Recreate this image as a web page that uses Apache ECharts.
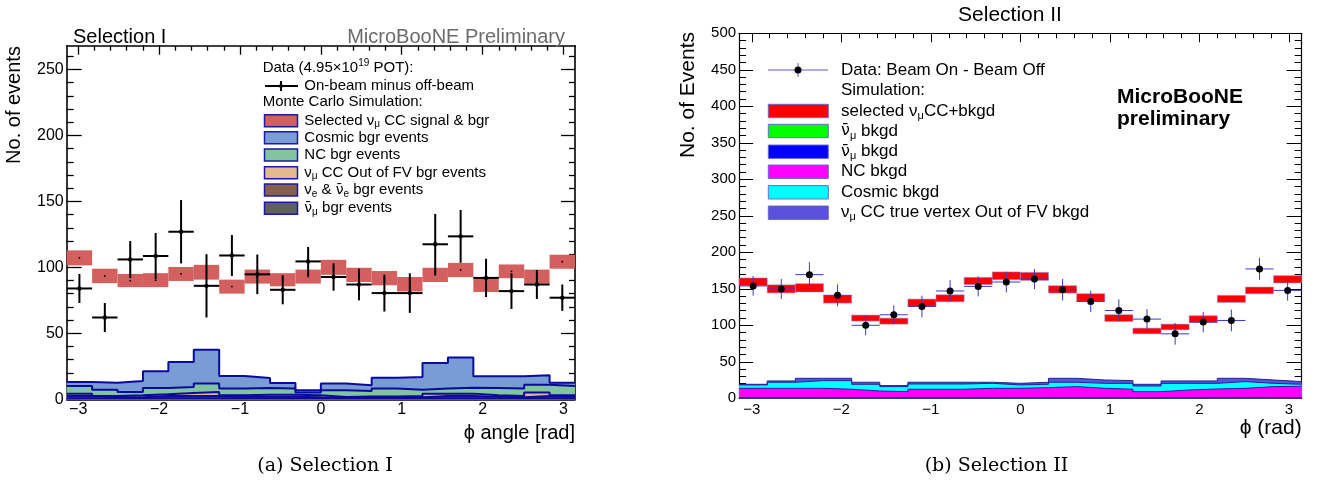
<!DOCTYPE html>
<html><head><meta charset="utf-8">
<script src="https://cdn.jsdelivr.net/npm/echarts@6/dist/echarts.min.js"></script>
<style>html,body{margin:0;padding:0;background:#fff}#c{width:1321px;height:482px}</style>
</head><body><div id="c"></div>
<script>
// ================= DATA =================
const nBins = 20;
const phiMin = -Math.PI, phiMax = Math.PI;
const xTickValues = [-3, -2, -1, 0, 1, 2, 3];
const yTickValuesI = [0, 50, 100, 150, 200, 250];
const yTickValuesII = [0, 50, 100, 150, 200, 250, 300, 350, 400, 450, 500];

// ---- Selection I ----
const sel1Data    = [84, 62, 106, 108.6, 127, 86, 109, 94.7, 83, 104.5, 92.7, 87, 80.5, 80.5, 117.5, 123.5, 92, 82, 87, 77];
const sel1DataErr = [11, 11, 14, 17.5, 24, 24, 15.5, 15, 11, 11, 10.4, 12, 14, 15, 23, 20, 14.5, 13.5, 11, 10];
const sel1MC      = [107.2, 93.5, 90, 90.3, 95, 96.3, 85.4, 93, 90.6, 93, 100, 94.3, 91.8, 87.2, 94.3, 98, 87, 97, 93, 104.3];
const sel1MCErr   = [5.7, 5.5, 5, 5.3, 5.3, 5.6, 5.3, 5.3, 5, 5.3, 5.7, 5.4, 5.4, 5.5, 5.4, 5.4, 5.7, 5.2, 5.3, 5.3];
const sel1Numubar = [0.8, 0.8, 0.8, 0.8, 0.8, 0.8, 0.8, 0.8, 0.8, 0.8, 0.8, 0.8, 0.8, 0.8, 0.8, 0.8, 0.8, 0.8, 0.8, 0.8];
const sel1Nue     = [1.7, 0.7, 0.7, 1.7, 1.7, 1.7, 1.2, 1.2, 1.2, 0.7, 0.4, 0.7, 0.7, 0.7, 1.7, 1.7, 1.2, 0.7, 1.7, 1.2];
const sel1OutFV   = [1.8, 1.0, 1.5, 1.3, 2.3, 3.0, 1.0, 1.5, 1.5, 1.5, 0.6, 0.7, 0.7, 1.0, 1.8, 1.8, 1.0, 1.0, 2.6, 1.0];
const sel1NC      = [5.8, 4.8, 2.5, 4.8, 4.5, 6.4, 5.1, 5.1, 4.6, 2.1, 5.0, 4.1, 5.9, 4.8, 3.8, 4.5, 5.6, 5.6, 6.0, 7.1];
const sel1Cosmic  = [3.0, 5.3, 8.4, 12.6, 19.0, 25.7, 9.6, 7.6, 4.3, 1.7, 5.1, 4.3, 8.3, 9.6, 19.4, 22.8, 8.8, 9.3, 7.1, 2.5];

// ---- Selection II ----
const sel2Data    = [154, 149.7, 169.4, 141, 100, 114.4, 125.8, 147, 153.3, 159.3, 163.4, 148.8, 132.7, 120.3, 108.5, 88.3, 104.4, 106.6, 177.2, 147.8];
const sel2DataErr = [13.5, 13.7, 17, 14.9, 13.7, 13, 14.9, 14.9, 13.7, 14.2, 13.7, 14.6, 14.6, 15.3, 13.7, 14.9, 14, 14.9, 15.3, 14];
const sel2MC      = [159.5, 149.9, 151.3, 135.7, 109.9, 105.7, 130.9, 137, 160.7, 167.8, 167, 149.2, 138, 109.9, 92.2, 97.7, 108.5, 136.2, 147.8, 163];
const sel2MCErr   = [5.3, 5.5, 5.7, 5.3, 4.1, 4.1, 5, 4.8, 5, 5.3, 5.5, 5, 5.3, 4.6, 3.9, 3.9, 4.6, 4.8, 4.6, 5];
const sel2NumubarG = [0.3, 0.3, 0.3, 0.3, 0.3, 0.3, 0.3, 0.3, 0.3, 0.3, 0.3, 0.3, 0.3, 0.3, 0.3, 0.3, 0.8, 0.8, 0.8, 0.8];
const sel2NumubarB = [0.4, 0.4, 0.4, 0.4, 0.4, 0.4, 0.4, 0.4, 0.4, 0.4, 0.4, 0.4, 0.4, 0.4, 0.4, 0.4, 0.4, 0.4, 0.4, 0.4];
const sel2NC      = [13.0, 13.0, 13.0, 11.7, 9.3, 8.4, 11.7, 11.7, 13.0, 13.0, 13.9, 15.3, 13.0, 11.7, 8.4, 10.7, 11.6, 12.5, 14.8, 15.3];
const sel2Cosmic  = [4.6, 8.3, 10.5, 11.8, 9.2, 6.9, 7.2, 7.2, 6.8, 4.6, 4.6, 6.0, 6.8, 8.1, 7.8, 9.1, 7.7, 9.2, 4.5, 2.7];
const sel2OutFV   = [0.9, 1.8, 3.2, 3.2, 2.8, 1.4, 2.4, 2.4, 1.5, 2.2, 2.8, 5.4, 4.6, 3.7, 2.3, 3.3, 3.3, 4.5, 4.6, 3.7];

// legend labels
const legendI = [
  'Selected ν{s|μ} CC signal & bgr',
  'Cosmic bgr events',
  'NC bgr events',
  'ν{s|μ} CC Out of FV bgr events',
  'ν{s|e} & {nb|ν\u0304}{s|e} bgr events',
  '{nb|ν\u0304}{s|μ} bgr events'
];
const legendII = [
  'selected ν{s|μ}CC+bkgd',
  '{nb|ν\u0304}{s|μ} bkgd',
  '{nb|ν\u0304}{s|μ} bkgd',
  'NC bkgd',
  'Cosmic bkgd',
  'ν{s|μ} CC true vertex Out of FV bkgd'
];

// ================= STYLE =================
const SANS = "'Liberation Sans', Arial, Helvetica, sans-serif";
const SERIF = "'DejaVu Serif', 'Liberation Serif', serif";
const colI = {band: '#d45f5f', cosmic: '#7a9cd4', nc: '#82c3a0', outfv: '#e1b98c', nue: '#86604f', numubar: '#606060', outline: '#0a0a9c'};
const colII = {band: '#ff0000', green: '#00ff00', blue: '#0000ff', nc: '#ff00ff', cosmic: '#00ffff', outfv: '#5a50dc', outline: '#22229a'};

// ================= HELPERS =================
const edges = Array.from({length: nBins + 1}, (_, k) => phiMin + k * (phiMax - phiMin) / nBins);
function cumulate(layers) {
  let acc = new Array(nBins).fill(0);
  return layers.map(l => { acc = acc.map((a, i) => a + l[i]); return acc.slice(); });
}
function fmtMinus(v) { return v < 0 ? '\u2212' + Math.abs(v) : String(v); }
function minorVals(lo, hi, step, majorStep) {
  const out = [];
  for (let v = lo; v <= hi + 1e-9; v += step) {
    const r = Math.round(v * 1000) / 1000;
    if (Math.abs(r / majorStep - Math.round(r / majorStep)) > 1e-6) out.push(r);
  }
  return out;
}
const xMinor = minorVals(-3.2, 3.2, 0.2, 1);

function makeAxes(gi, c) {
  const xs = [], ys = [];
  const lineS = {color: '#000', width: c.lw};
  const tickS = {color: '#000', width: c.tw};
  const baseX = {type: 'value', gridIndex: gi, min: phiMin, max: phiMax, splitLine: {show: false}, minorTick: {show: false}};
  xs.push(Object.assign({}, baseX, {position: 'bottom',
    axisLine: {show: true, onZero: false, lineStyle: lineS},
    axisTick: {show: true, inside: true, length: c.xMaj, customValues: xTickValues, lineStyle: tickS},
    axisLabel: {show: true, customValues: xTickValues, formatter: fmtMinus, margin: c.xLabMargin, color: '#000', fontSize: c.labFs, fontFamily: SANS}}));
  xs.push(Object.assign({}, baseX, {position: 'bottom',
    axisLine: {show: false, onZero: false},
    axisTick: {show: true, inside: true, length: c.xMin, customValues: xMinor, lineStyle: tickS},
    axisLabel: {show: false}}));
  xs.push(Object.assign({}, baseX, {position: 'top',
    axisLine: {show: true, onZero: false, lineStyle: lineS},
    axisTick: {show: true, inside: true, length: c.xMaj, customValues: xTickValues, lineStyle: tickS},
    axisLabel: {show: false}}));
  xs.push(Object.assign({}, baseX, {position: 'top',
    axisLine: {show: false, onZero: false},
    axisTick: {show: true, inside: true, length: c.xMin, customValues: xMinor, lineStyle: tickS},
    axisLabel: {show: false}}));
  const yMinor = minorVals(0, c.ymax, 10, 50);
  const baseY = {type: 'value', gridIndex: gi, min: 0, max: c.ymax, splitLine: {show: false}, minorTick: {show: false}};
  ys.push(Object.assign({}, baseY, {position: 'left',
    axisLine: {show: true, onZero: false, lineStyle: lineS},
    axisTick: {show: true, inside: true, length: c.yMaj, customValues: c.yTicks, lineStyle: tickS},
    axisLabel: {show: true, customValues: c.yTicks, margin: c.yLabMargin, color: '#000', fontSize: c.labFs, fontFamily: SANS}}));
  ys.push(Object.assign({}, baseY, {position: 'left',
    axisLine: {show: false, onZero: false},
    axisTick: {show: true, inside: true, length: c.yMin, customValues: yMinor, lineStyle: tickS},
    axisLabel: {show: false}}));
  ys.push(Object.assign({}, baseY, {position: 'right',
    axisLine: {show: true, onZero: false, lineStyle: lineS},
    axisTick: {show: true, inside: true, length: c.yMajR, customValues: c.yTicks, lineStyle: tickS},
    axisLabel: {show: false}}));
  ys.push(Object.assign({}, baseY, {position: 'right',
    axisLine: {show: false, onZero: false},
    axisTick: {show: true, inside: true, length: c.yMinR, customValues: yMinor, lineStyle: tickS},
    axisLabel: {show: false}}));
  return {xs, ys};
}

function stepArea(gi, tops, fill, stroke, lw) {
  return {type: 'line', xAxisIndex: gi * 4, yAxisIndex: gi * 4, step: 'end', symbol: 'none',
    data: edges.map((x, k) => [x, tops[Math.min(k, nBins - 1)]]),
    lineStyle: {color: stroke, width: lw}, areaStyle: {color: fill, opacity: 1},
    z: 2, silent: true, animation: false};
}
function bandSeries(gi, mc, err, fill, stroke, dotR) {
  return {type: 'custom', xAxisIndex: gi * 4, yAxisIndex: gi * 4, z: 3, silent: true, animation: false,
    data: mc.map((v, k) => [edges[k], edges[k + 1], v, err[k]]),
    encode: {x: 0, y: 2},
    renderItem: function (params, api) {
      const lo = api.value(0), hi = api.value(1), v = api.value(2), e = api.value(3);
      const p1 = api.coord([lo, v + e]), p2 = api.coord([hi, v - e]), pc = api.coord([(lo + hi) / 2, v]);
      const ch = [{type: 'rect', shape: {x: p1[0], y: p1[1], width: p2[0] - p1[0], height: p2[1] - p1[1]},
        style: {fill: fill, stroke: stroke || null, lineWidth: stroke ? 1 : 0}}];
      if (dotR) ch.push({type: 'circle', shape: {cx: pc[0], cy: pc[1], r: dotR}, style: {fill: '#000'}});
      return {type: 'group', children: ch};
    }};
}
function pointSeries(gi, vals, errs, lineColor, lw, dotR) {
  return {type: 'custom', xAxisIndex: gi * 4, yAxisIndex: gi * 4, z: 4, silent: true, animation: false,
    data: vals.map((v, k) => [edges[k], edges[k + 1], v, errs[k]]),
    encode: {x: 0, y: 2},
    renderItem: function (params, api) {
      const lo = api.value(0), hi = api.value(1), v = api.value(2), e = api.value(3);
      const c = (lo + hi) / 2;
      const pl = api.coord([lo, v]), pr = api.coord([hi, v]);
      const pt = api.coord([c, v + e]), pb = api.coord([c, v - e]), pc = api.coord([c, v]);
      return {type: 'group', children: [
        {type: 'line', shape: {x1: pl[0], y1: pl[1], x2: pr[0], y2: pr[1]}, style: {stroke: lineColor, lineWidth: lw}},
        {type: 'line', shape: {x1: pt[0], y1: pt[1], x2: pb[0], y2: pb[1]}, style: {stroke: lineColor, lineWidth: lw}},
        {type: 'circle', shape: {cx: pc[0], cy: pc[1], r: dotR}, style: {fill: '#000'}}
      ]};
    }};
}

// ================= BUILD =================
const ax0 = makeAxes(0, {lw: 1.6, tw: 1.3, xMaj: 9, xMin: 5, yMaj: 15, yMin: 7, yMajR: 14, yMinR: 6,
  ymax: 268, yTicks: yTickValuesI, labFs: 16, xLabMargin: 2, yLabMargin: 3});
const ax1 = makeAxes(1, {lw: 1.2, tw: 1, xMaj: 9, xMin: 5, yMaj: 14, yMin: 7, yMajR: 15, yMinR: 7,
  ymax: 500, yTicks: yTickValuesII, labFs: 15, xLabMargin: 4, yLabMargin: 3});

const cumI = cumulate([sel1Numubar, sel1Nue, sel1OutFV, sel1NC, sel1Cosmic]);
const colsI = [colI.numubar, colI.nue, colI.outfv, colI.nc, colI.cosmic];
const cumII = cumulate([sel2NumubarG, sel2NumubarB, sel2NC, sel2Cosmic, sel2OutFV]);
const colsII = [colII.green, colII.blue, colII.nc, colII.cosmic, colII.outfv];

const series = [];
for (let i = cumI.length - 1; i >= 0; i--) series.push(stepArea(0, cumI[i], colsI[i], colI.outline, 2));
series.push(bandSeries(0, sel1MC, sel1MCErr, colI.band, null, 0.9));
series.push(pointSeries(0, sel1Data, sel1DataErr, '#000', 2, 2.2));
for (let i = cumII.length - 1; i >= 0; i--) series.push(stepArea(1, cumII[i], colsII[i], colII.outline, 1));
series.push(bandSeries(1, sel2MC, sel2MCErr, colII.band, 'rgba(140,140,230,0.55)', 0));
series.push(pointSeries(1, sel2Data, sel2DataErr, '#3a3ad0', 1, 3.5));

// ================= TEXT / LEGENDS =================
function txt(x, y, text, o) {
  return {type: 'text', x: x, y: y, silent: true, z: 100, rotation: (o && o.rot) || 0,
    style: Object.assign({text: text, fontFamily: SANS, fontSize: 15, fill: '#000', align: 'left', verticalAlign: 'middle'}, o && o.style)};
}
const graphics = [];

// Panel I texts
graphics.push(txt(73, 37, 'Selection I', {style: {fontSize: 20}}));
graphics.push(txt(565, 37, 'MicroBooNE Preliminary', {style: {fontSize: 20, align: 'right', fill: '#6b6b6b'}}));
graphics.push(txt(14.5, 105, 'No. of events', {rot: Math.PI / 2, style: {fontSize: 20, align: 'center'}}));
graphics.push(txt(575, 433, '\u03D5 angle [rad]', {style: {fontSize: 20, align: 'right'}}));
graphics.push(txt(325, 466, '(a) Selection I', {style: {fontSize: 19, fontFamily: SERIF, align: 'center'}}));

// Panel I legend
const richI = {
  s: {fontSize: 10, lineHeight: 10, verticalAlign: 'bottom', fontFamily: SANS},
  sup: {fontSize: 10, lineHeight: 10, verticalAlign: 'top', fontFamily: SANS},
  nb: {fontSize: 14, lineHeight: 18, fontFamily: "'DejaVu Sans', sans-serif"}
};
graphics.push(txt(262.7, 67.5, 'Data (4.95×10{sup|19} POT):', {style: {lineHeight: 18, rich: richI}}));
graphics.push({type: 'line', silent: true, z: 100, shape: {x1: 265, y1: 86, x2: 298, y2: 86}, style: {stroke: '#000', lineWidth: 2}});
graphics.push({type: 'line', silent: true, z: 100, shape: {x1: 281, y1: 81, x2: 281, y2: 91}, style: {stroke: '#000', lineWidth: 2}});
graphics.push({type: 'circle', silent: true, z: 100, shape: {cx: 281, cy: 86, r: 2}, style: {fill: '#000'}});
graphics.push(txt(304.3, 86, 'On-beam minus off-beam'));
graphics.push(txt(262.7, 102, 'Monte Carlo Simulation:'));
const rowsI = [120.7, 137.7, 155, 172.7, 190, 208.3];
const swI = [colI.band, colI.cosmic, colI.nc, colI.outfv, colI.nue, colI.numubar];
rowsI.forEach((y, i) => {
  graphics.push({type: 'rect', silent: true, z: 100, shape: {x: 264.5, y: y - 6, width: 33, height: 12}, style: {fill: swI[i], stroke: '#1a1aa8', lineWidth: 1.5}});
  graphics.push(txt(304.3, y, legendI[i], {style: {lineHeight: 18, rich: richI}}));
});

// Panel II texts
graphics.push(txt(1010, 15.2, 'Selection II', {style: {fontSize: 21, align: 'center'}}));
graphics.push(txt(1117, 97.5, 'MicroBooNE', {style: {fontSize: 21, fontWeight: 'bold'}}));
graphics.push(txt(1117, 119.5, 'preliminary', {style: {fontSize: 21, fontWeight: 'bold'}}));
graphics.push(txt(688.5, 95, 'No. of Events', {rot: Math.PI / 2, style: {fontSize: 21, align: 'center'}}));
graphics.push(txt(1301.7, 428.5, '\u03D5 (rad)', {style: {fontSize: 21, align: 'right'}}));
graphics.push(txt(996.5, 466, '(b) Selection II', {style: {fontSize: 19, fontFamily: SERIF, align: 'center'}}));

// Panel II legend
const richII = {
  s: {fontSize: 11, lineHeight: 11, verticalAlign: 'bottom', fontFamily: SANS},
  nb: {fontSize: 16, lineHeight: 20, fontFamily: "'DejaVu Sans', sans-serif"}
};
graphics.push({type: 'line', silent: true, z: 100, shape: {x1: 768, y1: 70, x2: 828, y2: 70}, style: {stroke: '#5a5ad8', lineWidth: 1}});
graphics.push({type: 'line', silent: true, z: 100, shape: {x1: 798, y1: 63, x2: 798, y2: 77}, style: {stroke: '#5a5ad8', lineWidth: 1}});
graphics.push({type: 'circle', silent: true, z: 100, shape: {cx: 798, cy: 70, r: 3.5}, style: {fill: '#000'}});
graphics.push(txt(841, 70, 'Data: Beam On - Beam Off', {style: {fontSize: 17}}));
graphics.push(txt(841, 90, 'Simulation:', {style: {fontSize: 17}}));
const rowsII = [111, 131, 151.7, 171.7, 192.3, 212.7];
const swII = [colII.band, colII.green, colII.blue, colII.nc, colII.cosmic, colII.outfv];
rowsII.forEach((y, i) => {
  graphics.push({type: 'rect', silent: true, z: 100, shape: {x: 768.3, y: y - 6.7, width: 60, height: 13.4}, style: {fill: swII[i], stroke: '#6a6ad0', lineWidth: 1}});
  graphics.push(txt(841, y, legendII[i], {style: {fontSize: 17, lineHeight: 20, rich: richII}}));
});

const option = {
  animation: false,
  backgroundColor: '#fff',
  grid: [
    {left: 66.7, top: 45.7, width: 508.3, height: 353.6, containLabel: false, outerBoundsMode: 'none'},
    {left: 739.1, top: 33.3, width: 562.6, height: 365, containLabel: false, outerBoundsMode: 'none'}
  ],
  xAxis: ax0.xs.concat(ax1.xs),
  yAxis: ax0.ys.concat(ax1.ys),
  series: series,
  graphic: graphics
};
const chart = echarts.init(document.getElementById('c'), null, {renderer: 'canvas'});
chart.setOption(option);
</script>
</body></html>
